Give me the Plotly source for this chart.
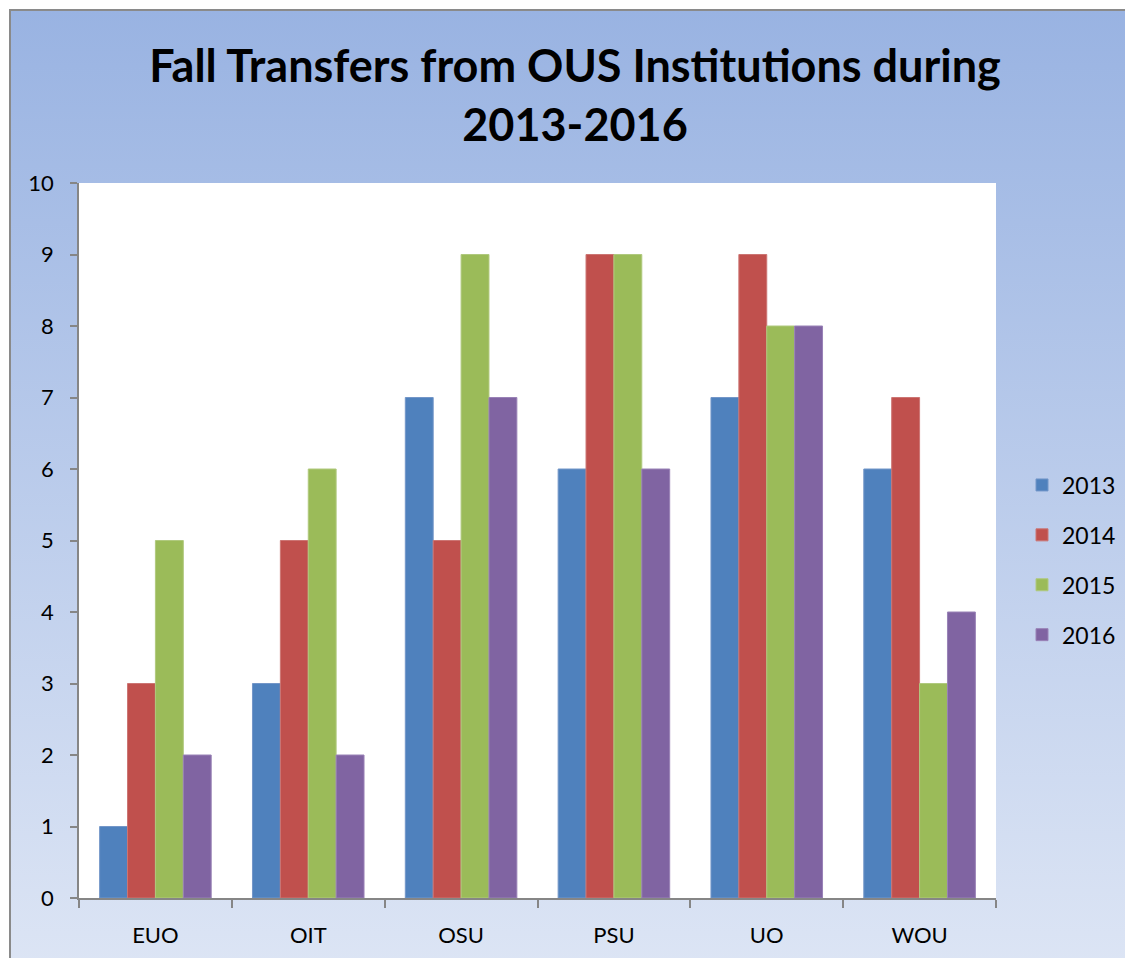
import plotly.graph_objects as go
import base64

categories = ["EUO", "OIT", "OSU", "PSU", "UO", "WOU"]
years = ["2013", "2014", "2015", "2016"]
v2013 = [1, 3, 7, 6, 7, 6]
v2014 = [3, 5, 5, 9, 9, 7]
v2015 = [5, 6, 9, 9, 8, 3]
v2016 = [2, 2, 7, 6, 8, 4]
series = [v2013, v2014, v2015, v2016]
colors = ["#4F81BD", "#C0504D", "#9BBB59", "#8064A2"]
edges = ["#7396C8", "#CC7573", "#B0C97E", "#9982B6"]

W, H = 1133, 958
OFF = 8  # page body margin
L, T = 79 - OFF, 183 - OFF
R = W - (996 - OFF)
B = H - (898 - OFF)
pw, ph = W - L - R, H - T - B

def px_x(x):
    return (x - OFF - L) / pw

def px_y(y):
    return 1 - (y - OFF - T) / ph

fig = go.Figure()
for i, (yr, vals) in enumerate(zip(years, series)):
    fig.add_trace(go.Bar(
        x=categories, y=vals, name=yr, legendgroup=yr,
        marker=dict(color=colors[i], line=dict(color=edges[i], width=1)),
    ))

svg = ('<svg xmlns="http://www.w3.org/2000/svg" width="100" height="100" preserveAspectRatio="none">'
       '<defs><linearGradient id="g" x1="0" y1="0" x2="0" y2="1">'
       '<stop offset="0" stop-color="#99B3E2"/><stop offset="1" stop-color="#DEE6F5"/>'
       '</linearGradient></defs><rect width="100" height="100" fill="url(#g)"/></svg>')
src = "data:image/svg+xml;base64," + base64.b64encode(svg.encode()).decode()

x0, y0, x1, y1 = 10, 10, 1160, 990
fig.add_layout_image(dict(
    source=src, xref="paper", yref="paper",
    x=px_x(x0), y=px_y(y0), sizex=(x1 - x0) / pw, sizey=(y1 - y0) / ph,
    xanchor="left", yanchor="top", sizing="stretch", layer="below",
))
fig.add_shape(type="rect", xref="paper", yref="paper",
              x0=px_x(x0), x1=px_x(x1), y0=px_y(y1), y1=px_y(y0),
              line=dict(color="#8A8A8A", width=2), fillcolor="rgba(0,0,0,0)", layer="below")
fig.add_shape(type="rect", xref="paper", yref="paper", x0=0, x1=1, y0=0, y1=1,
              line=dict(width=0), fillcolor="white", layer="below")

font = "Lato, 'Open Sans', sans-serif"
fig.update_layout(
    width=W, height=H,
    margin=dict(l=L, r=R, t=T, b=B),
    paper_bgcolor="white", plot_bgcolor="white",
    font=dict(family=font, size=22, color="black"),
    title=dict(text="<b>Fall Transfers from OUS Institutions during<br>2013-2016</b>",
               x=(575 - OFF) / W, xanchor="center", xref="container",
               y=1 - 74 / H, yanchor="top", yref="container",
               font=dict(family=font, size=45, color="black")),
    barmode="group", bargap=0.27, bargroupgap=0,
    legend=dict(x=px_x(1022), xanchor="left", y=px_y(560), yanchor="middle",
                font=dict(size=23), tracegroupgap=17, bgcolor="rgba(0,0,0,0)"),
    showlegend=True,
)
fig.update_xaxes(showline=True, linecolor="#868686", linewidth=1.5,
                 ticks="outside", tickson="boundaries", ticklen=8, tickcolor="#868686",
                 tickwidth=1.5, ticklabelstandoff=17, showgrid=False)
fig.update_yaxes(range=[0, 10], dtick=1, showline=True, linecolor="#868686", linewidth=1.5,
                 ticks="outside", ticklen=7, tickcolor="#868686", tickwidth=1.5,
                 ticklabelstandoff=12, showgrid=False, zeroline=False)

fig.write_html("out.html")
